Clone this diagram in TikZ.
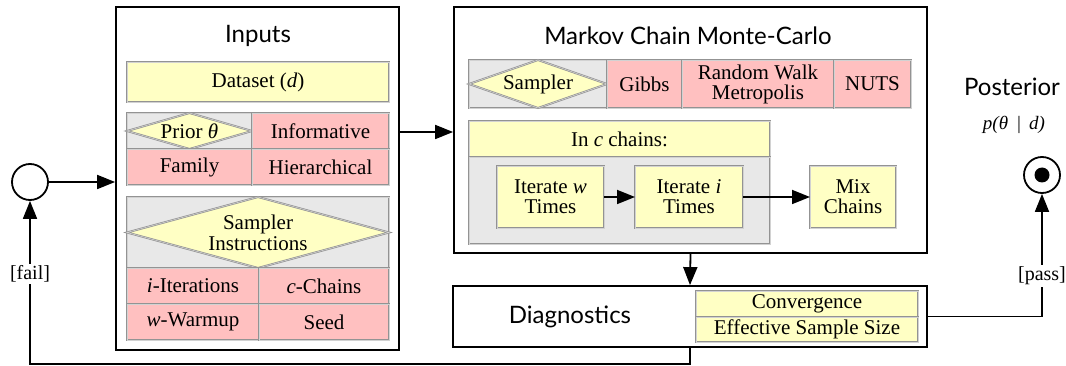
\documentclass[tikz,border=0pt]{standalone}
\usepackage{fontspec}
\setmainfont{Liberation Serif}
\newfontfamily\titlefont{Lato}
\usetikzlibrary{arrows.meta,calc}

\definecolor{cellyellow}{HTML}{FFFFC4}
\definecolor{cellpink}{HTML}{FFC0C0}
\definecolor{cellgray}{HTML}{E8E8E8}

\tikzset{
  frame/.style={draw=black,line width=1.8pt,fill=white},
  cellborder/.style={draw=gray!85,double=gray!35,double distance=0.6pt,line width=0.7pt},
  cell/.style={cellborder,inner sep=0pt,outer sep=0pt,align=center,
    font=\fontsize{21}{22}\selectfont},
  ycell/.style={cell,fill=cellyellow},
  pcell/.style={cell,fill=cellpink},
  gcell/.style={cell,fill=cellgray},
  title/.style={font=\titlefont\fontsize{24}{27}\selectfont,inner sep=0pt},
  txt/.style={font=\fontsize{21}{22}\selectfont,inner sep=0pt,align=center},
  arrow/.style={-{Triangle[length=18pt,width=14pt]},line width=1.8pt},
  lbl/.style={fill=white,inner sep=1.5pt,font=\fontsize{20}{22}\selectfont},
}

% box from its corners: style, name, x1, y1, x2, y2, text
\newcommand\cellnode[7]{%
  \node[#1,minimum width={(#5)-(#3)},minimum height={(#6)-(#4)}]
    (#2) at ({((#3)+(#5))/2},{((#4)+(#6))/2}) {#7};}
% yellow diamond filling a grey cell, with its label
\newcommand\diamondin[2]{%
  \draw[cellborder,fill=cellyellow] (#1.west) -- (#1.north) -- (#1.east) -- (#1.south) -- cycle;
  \node[txt] at (#1.center) {#2};}

\begin{document}
\begin{tikzpicture}[x=1pt,y=-1pt]
\useasboundingbox (0,0) rectangle (1066,366);

% ---- Inputs ----
\cellnode{frame}{inputs}{116}{7}{399}{350}{}
\node[title] at (258,36) {Inputs};
\cellnode{ycell}{dataset}{127}{62}{389}{102}{Dataset (\textit{d})}
\cellnode{gcell}{prior}{127}{113}{252}{149}{}
\diamondin{prior}{Prior \textit{θ}}
\cellnode{pcell}{informative}{252}{113}{389}{149}{Informative}
\cellnode{pcell}{family}{127}{149}{252}{185}{Family}
\cellnode{pcell}{hier}{252}{149}{389}{185}{Hierarchical}
\cellnode{gcell}{instr}{127}{197}{389}{268}{}
\diamondin{instr}{Sampler\\[-1pt]Instructions}
\cellnode{pcell}{iters}{127}{268}{259}{304}{\textit{i}-Iterations}
\cellnode{pcell}{chains}{259}{268}{389}{304}{\textit{c}-Chains}
\cellnode{pcell}{warmup}{127}{304}{259}{340}{\textit{w}-Warmup}
\cellnode{pcell}{seed}{259}{304}{389}{340}{Seed}

% ---- MCMC ----
\cellnode{frame}{mcmc}{454}{7}{927}{253}{}
\node[title] at (688,36) {Markov Chain Monte-Carlo};
\cellnode{gcell}{sampler}{469}{60}{607}{108}{}
\diamondin{sampler}{Sampler}
\cellnode{pcell}{gibbs}{607}{60}{682}{108}{Gibbs}
\cellnode{pcell}{rwm}{682}{60}{834}{108}{Random Walk\\[-2pt]Metropolis}
\cellnode{pcell}{nuts}{834}{60}{911}{108}{NUTS}
\cellnode{ycell}{inchains}{469}{121}{770}{157}{In \textit{c} chains:}
\cellnode{gcell}{chainbody}{469}{157}{770}{244}{}
\cellnode{ycell}{iterw}{497}{166}{604}{228}{Iterate \textit{w}\\[-2pt]Times}
\cellnode{ycell}{iteri}{635}{166}{743}{228}{Iterate \textit{i}\\[-2pt]Times}
\cellnode{ycell}{mix}{810}{166}{896}{228}{Mix\\[-2pt]Chains}

% ---- Diagnostics ----
\cellnode{frame}{diag}{453}{286}{927}{347}{}
\node[title] (diagtitle) at (570,317) {Diagnostics};
\cellnode{ycell}{conv}{696}{291}{918}{317}{Convergence}
\cellnode{ycell}{ess}{696}{317}{918}{342}{Effective Sample Size}

% ---- start / end ----
\node[circle,draw,line width=1.8pt,minimum size=36pt,inner sep=0pt] (start) at (30,182) {};
\node[circle,draw,line width=1.8pt,minimum size=36pt,inner sep=0pt] (end) at (1042,175) {};
\fill (end.center) circle (7.5);
\node[title] (posterior) at (1012,87) {Posterior};
\node[txt,font=\fontsize{19}{20}\selectfont] (pdist) at (1014,125) {\textit{p(θ \,|\, d)}};

% ---- connectors ----
\coordinate (linky) at (0,132);
\coordinate (failturn) at (30,364);
\coordinate (passturn) at (1042,316.5);
\draw[arrow] (start.east) -- (inputs.west |- start.east);
\draw[arrow] (inputs.east |- linky) -- (mcmc.west |- linky);
\draw[arrow] (iterw.east) -- (iteri.west);
\draw[arrow] (iteri.east) -- (mix.west);
\draw[arrow] (mcmc.south) -- (diag.north);
\draw[arrow] (diag.south) |- (failturn) -- (start.south)
  node[lbl,pos=0.55] {[fail]};
\draw[arrow] (diag.east) -- (passturn) -- (end.south)
  node[lbl,pos=0.33] {[pass]};
\end{tikzpicture}
\end{document}
